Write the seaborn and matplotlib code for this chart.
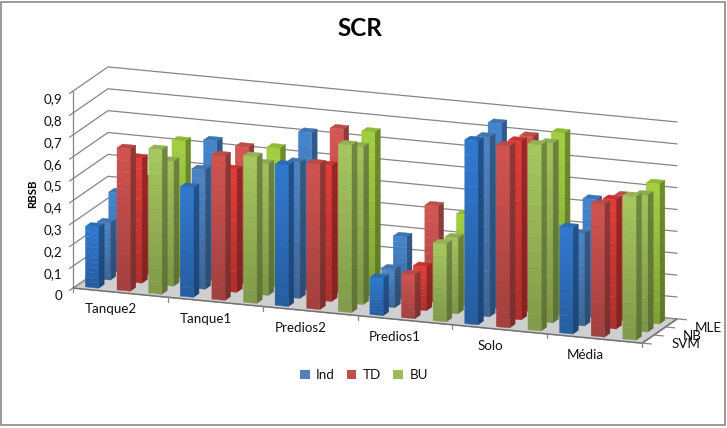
import numpy as np
import seaborn as sns
import matplotlib
matplotlib.use("Agg")
import matplotlib.pyplot as plt
from matplotlib.patches import Patch, Rectangle
from mpl_toolkits.mplot3d import proj3d
from mpl_toolkits.mplot3d.art3d import Poly3DCollection

categories = ['Tanque2', 'Tanque1', 'Predios2', 'Predios1', 'Solo', 'Média']
methods = ['Ind', 'TD', 'BU']
classifiers = ['SVM', 'NB', 'MLE']
z_ticks = [0, 0.1, 0.2, 0.3, 0.4, 0.5, 0.6, 0.7, 0.8, 0.9]
z_labels = ['0', '0,1', '0,2', '0,3', '0,4', '0,5', '0,6', '0,7', '0,8', '0,9']

# one row per category, columns Ind / TD / BU
svm = [[.277, .65, .66], [.50, .66, .67], [.645, .665, .765],
       [.17, .20, .355], [.84, .83, .85], [.485, .605, .655]]
nb = [[.26, .57, .57], [.545, .56, .60], [.62, .62, .72],
      [.175, .20, .345], [.82, .815, .82], [.42, .59, .625]]
mle = [[.36, .435, .625], [.64, .625, .635], [.72, .75, .75],
       [.285, .44, .415], [.845, .80, .83], [.54, .57, .64]]

legend_colors = ['#4f81bd', '#c0504d', '#9bbb59']
# front face colours per method, for SVM / NB / MLE
face_colors = [['#2f74c8', '#4a7ebb', '#4380c4'],
               ['#c9504d', '#d83a36', '#cc5450'],
               ['#a0c05c', '#9aba58', '#9cc83e']]

sns.set_theme(style='white')
plt.rcParams['font.family'] = ['Lato', 'DejaVu Sans']


def shade(color, k):
    rgb = np.array(sns.color_palette([color])[0]) * k
    return tuple(np.clip(rgb, 0, 1))


def draw_bar(ax, x, y, h, color, order):
    x0, x1 = x + 0.3, x + 0.72
    y0, y1 = y + 0.25, y + 0.72
    verts, cols = [], []
    edges = np.linspace(0, h, 13)
    for i in range(12):
        a, b = edges[i], edges[i + 1]
        k = 0.8 + 0.24 * (i + 0.5) / 12
        verts.append([(x0, y0, a), (x1, y0, a), (x1, y0, b), (x0, y0, b)])
        cols.append(shade(color, k))
        verts.append([(x1, y0, a), (x1, y1, a), (x1, y1, b), (x1, y0, b)])
        cols.append(shade(color, 0.6 + 0.1 * (i + 0.5) / 12))
    verts.append([(x0, y0, h), (x1, y0, h), (x1, y1, h), (x0, y1, h)])
    cols.append(shade(color, 0.92))
    coll = Poly3DCollection(verts, facecolors=cols, edgecolors=cols, linewidths=0.25)
    coll.set_zorder(order)
    ax.add_collection3d(coll)


fig = plt.figure(figsize=(7.27, 4.28), dpi=100)
fig.patch.set_facecolor('white')
fig.add_artist(Rectangle((1.5 / 727, 3 / 428), 723 / 727, 423 / 428, transform=fig.transFigure,
                         fill=False, edgecolor='#8a8a8a', linewidth=1.2))

ax = fig.add_axes([0, 0, 1, 1], projection='3d', computed_zorder=False)
ax.set_proj_type('ortho')
ax.view_init(elev=15, azim=-69.5)
ax.set_xlim(0, 18, view_margin=0)
ax.set_ylim(0, 3, view_margin=0)
ax.set_zlim(0, 0.9, view_margin=0)
ax.set_axis_off()
ax.patch.set_alpha(0)
aspect = (608, 100, 204)
ax.set_box_aspect(aspect, zoom=1)


def to_px(x, y, z):
    xs, ys, _ = proj3d.proj_transform(x, y, z, ax.get_proj())
    return ax.transData.transform((xs, ys))


# fit the floor's front edge onto the reference pixels
ax.apply_aspect()
span = to_px(18, 0, 0)[0] - to_px(0, 0, 0)[0]
ax.set_box_aspect(aspect, zoom=569 / span)
ax.apply_aspect()
dx, dy = np.array([73, 428 - 288]) - to_px(0, 0, 0)
ax.set_position([dx / 727, dy / 428, 1, 1])
ax.apply_aspect()

grid = '#868686'
floor = Poly3DCollection([[(0, 0, 0), (18, 0, 0), (18, 3, 0), (0, 3, 0)]],
                         facecolors='#cfcfcf', edgecolors='#a0a0a0', linewidths=0.6)
floor.set_zorder(0)
ax.add_collection3d(floor)

for z in z_ticks[1:]:
    ax.plot([0, 0, 18], [0, 3, 3], [z, z, z], color=grid, lw=0.9, zorder=1)
ax.plot([0, 0, 18], [0, 3, 3], [0, 0, 0], color=grid, lw=0.9, zorder=1)
ax.plot([0, 0], [0, 0], [0, 0.9], color=grid, lw=0.9, zorder=1)
ax.plot([0, 18, 18], [0, 0, 3], [0, 0, 0], color='#707070', lw=1.0, zorder=1)

for z, lab in zip(z_ticks, z_labels):
    ax.plot([0, 0], [0, -0.3], [z, z], color=grid, lw=0.9, zorder=1)
    ax.text(0, -0.9, z - 0.003, lab, ha='right', va='center', fontsize=9.6, color='#111111')

for i, cat in enumerate(categories):
    ax.plot([3 * i, 3 * i], [0, 0], [0, -0.02], color=grid, lw=0.9, zorder=1)
    ax.text(3 * i + 1.45, -0.7, -0.052, cat, ha='center', va='center', fontsize=9.6, color='#111111')
ax.plot([18, 18], [0, 0], [0, -0.02], color=grid, lw=0.9, zorder=1)

for r, lab in enumerate(classifiers):
    ax.plot([18, 18.3], [r, r], [0, 0], color=grid, lw=0.9, zorder=1)
    ax.text(18.75, r + 0.5, -0.012, lab, ha='left', va='center', fontsize=9.6, color='#111111')
ax.plot([18, 18.3], [3, 3], [0, 0], color=grid, lw=0.9, zorder=1)

rows = [svm, nb, mle]
order = 2
for r in [2, 1, 0]:
    for c in range(len(categories)):
        for m in range(3):
            draw_bar(ax, 3 * c + m, r, rows[r][c][m], face_colors[m][r], order)
            order += 1

for art in list(ax.lines) + list(ax.collections):
    art.set_clip_on(False)

fig.text(360 / 727, 1 - 28 / 428, 'SCR', ha='center', va='center', fontsize=17.5,
         fontweight='bold', color='black')
fig.text(33 / 727, 1 - 194 / 428, 'RBSB', ha='center', va='center', rotation=90,
         fontsize=8.2, fontweight='bold', color='black')

handles = [Patch(facecolor=c, edgecolor='none') for c in legend_colors]
fig.legend(handles, methods, loc='center', bbox_to_anchor=(364 / 727, 1 - 375 / 428), ncol=3,
           frameon=False, fontsize=9.6, handlelength=0.7, handleheight=0.7,
           handletextpad=0.5, columnspacing=0.9, labelcolor='#111111')

fig.savefig('out.png', dpi=100, facecolor='white')
